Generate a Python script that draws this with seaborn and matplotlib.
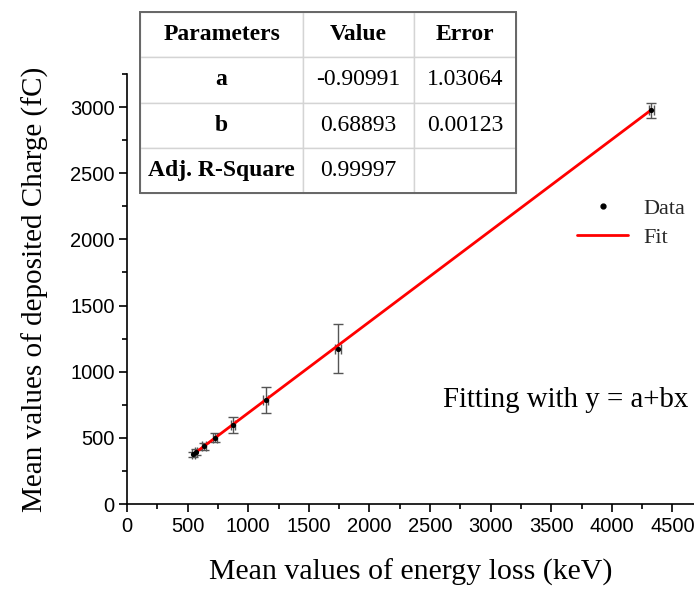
import matplotlib
matplotlib.use("Agg")
import matplotlib.pyplot as plt
from matplotlib.lines import Line2D
from matplotlib.patches import Rectangle
from matplotlib.ticker import MultipleLocator
import numpy as np
import pandas as pd
import seaborn as sns

# Measured points: mean energy loss vs. mean deposited charge
energy_kev = [547, 569, 635, 726, 877, 1144, 1740, 4327]
charge_fc = [375, 393, 436, 500, 597, 785, 1175, 2975]
charge_err = [20, 22, 27, 35, 60, 97, 182, 55]
energy_err = [12, 12, 14, 15, 18, 20, 25, 20]

# Linear fit parameters y = a + b x
fit_a = -0.90991
fit_b = 0.68893
table_header = ["Parameters", "Value", "Error"]
table_rows = [
    ["a", "-0.90991", "1.03064"],
    ["b", "0.68893", "0.00123"],
    ["Adj. R-Square", "0.99997", ""],
]

sns.set_theme(style="ticks")
serif = ["Liberation Serif", "DejaVu Serif"]
sans = ["Liberation Sans", "DejaVu Sans"]

W, H = 694, 589
fig = plt.figure(figsize=(W / 100, H / 100), dpi=100)
fig.patch.set_facecolor("white")

left, right, bottom, top = 127, 694, 504, 74
ax = fig.add_axes([left / W, (H - bottom) / H, (right - left) / W, (bottom - top) / H])
ax.set_facecolor("white")

df = pd.DataFrame({"energy": energy_kev, "charge": charge_fc})
x_fit = np.array([min(energy_kev), max(energy_kev)])
fit_df = pd.DataFrame({"energy": x_fit, "charge": fit_a + fit_b * x_fit})

ax.errorbar(df["energy"], df["charge"], yerr=charge_err, xerr=energy_err,
            fmt="none", ecolor="#555555", elinewidth=1.0, capsize=3.8,
            capthick=1.0, zorder=2)
sns.lineplot(data=fit_df, x="energy", y="charge", color="red", linewidth=2.0,
             ax=ax, zorder=3, legend=False)
sns.scatterplot(data=df, x="energy", y="charge", color="black", s=14,
                edgecolor="black", linewidth=0, ax=ax, zorder=4, legend=False)

ax.set_xlim(0, 4678)
ax.set_ylim(0, 3250)
ax.xaxis.set_major_locator(MultipleLocator(500))
ax.xaxis.set_minor_locator(MultipleLocator(250))
ax.yaxis.set_major_locator(MultipleLocator(500))
ax.yaxis.set_minor_locator(MultipleLocator(250))
ax.tick_params(which="major", direction="out", length=6, width=1.2,
               color="black", labelsize=14.5, pad=3)
ax.tick_params(which="minor", direction="out", length=3.5, width=1.2,
               color="black")
for lab in ax.get_xticklabels() + ax.get_yticklabels():
    lab.set_fontfamily(sans)
    lab.set_color("black")

for side in ("top", "right"):
    ax.spines[side].set_visible(False)
for side in ("left", "bottom"):
    ax.spines[side].set_color("black")
    ax.spines[side].set_linewidth(1.2)

ax.set_xlabel("Mean values of energy loss (keV)", fontfamily=serif,
              fontsize=21.5, color="black", labelpad=17)
ax.set_ylabel("Mean values of deposited Charge (fC)", fontfamily=serif,
              fontsize=21, color="black", labelpad=15)

ax.text(443 / W, 1 - 400 / H, "Fitting with y = a+bx", transform=fig.transFigure,
        fontfamily=serif, fontsize=20.8, color="black", ha="left", va="center")

handles = [
    Line2D([], [], linestyle="none", marker="o", markersize=3.5,
           color="black", label="Data"),
    Line2D([], [], color="red", linewidth=2.0, label="Fit"),
]
leg = ax.legend(handles=handles, loc="upper left",
                bbox_to_anchor=(577 / W, 1 - 198 / H),
                bbox_transform=fig.transFigure, frameon=False,
                prop={"family": serif, "size": 16}, handlelength=2.3,
                handletextpad=0.7, borderpad=0, borderaxespad=0,
                labelspacing=0.4)

# Fit-parameter table
tx0, tx1, ty0, ty1 = 140, 516, 12, 193
tax = fig.add_axes([tx0 / W, (H - ty1) / H, (tx1 - tx0) / W, (ty1 - ty0) / H])
tax.axis("off")
tab = tax.table(cellText=[table_header] + table_rows, bbox=[0, 0, 1, 1],
                cellLoc="center", colWidths=[0.434, 0.295, 0.271])
tab.auto_set_font_size(False)
for (r, c), cell in tab.get_celld().items():
    cell.set_edgecolor("#d4d4d4")
    cell.set_linewidth(1.0)
    cell.set_facecolor("white")
    txt = cell.get_text()
    txt.set_fontfamily(serif)
    txt.set_fontsize(17)
    txt.set_color("black")
    if r == 0 or c == 0:
        txt.set_fontweight("bold")
tax.add_patch(Rectangle((0, 0), 1, 1, transform=tax.transAxes, fill=False,
                        edgecolor="#666666", linewidth=1.4, zorder=5,
                        clip_on=False))

fig.savefig("out.png", dpi=100, facecolor="white")
